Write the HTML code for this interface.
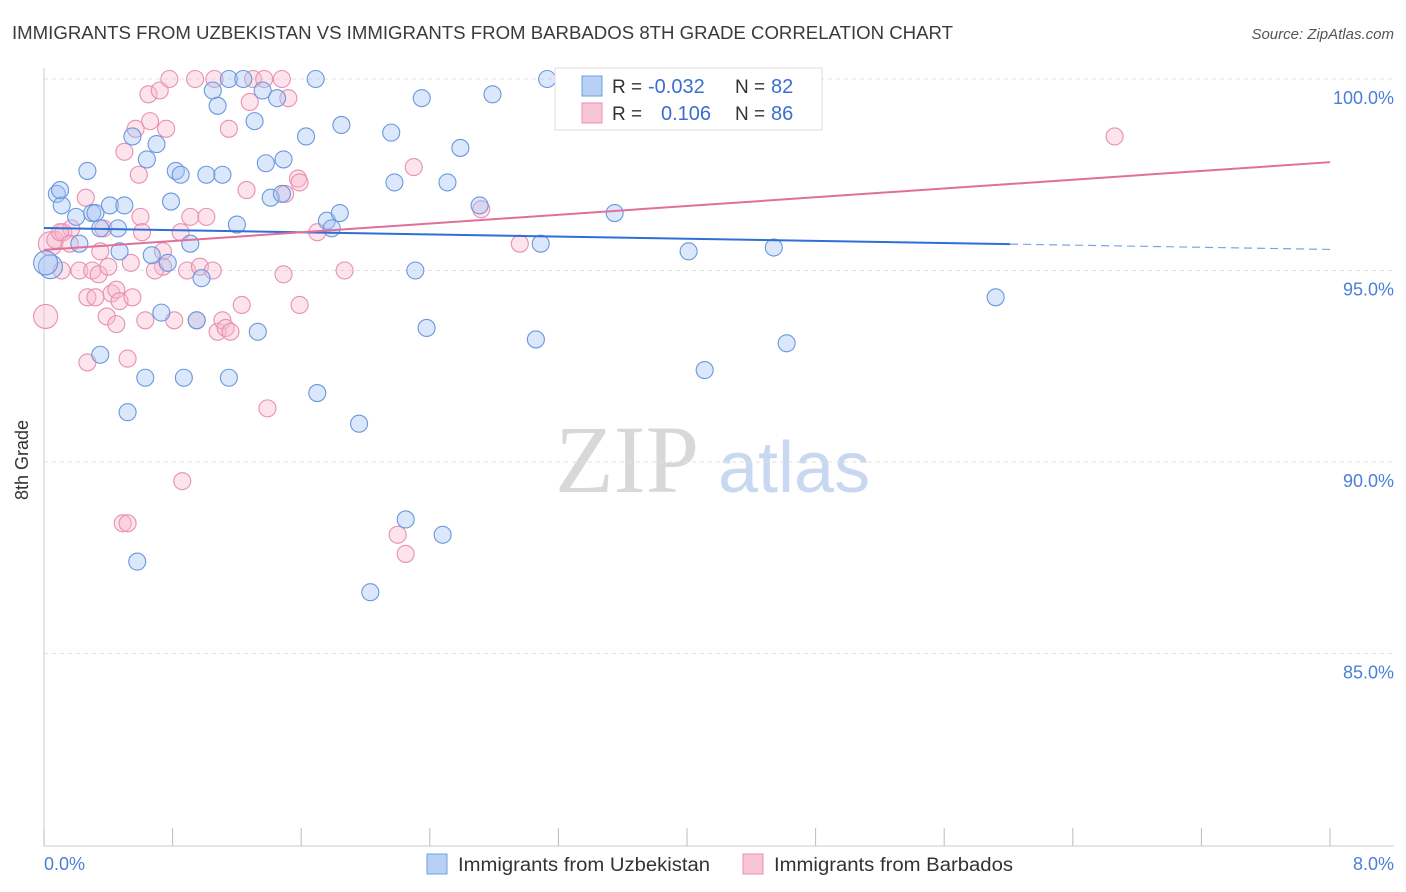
<!DOCTYPE html>
<html><head><meta charset="utf-8"><style>
body{margin:0;background:#fff;font-family:"Liberation Sans",sans-serif;}
svg{display:block}
</style></head><body>
<svg width="1406" height="892" xmlns="http://www.w3.org/2000/svg" id="chart">
<text x="12" y="39" font-size="18" fill="#3a3a3a" textLength="941" lengthAdjust="spacingAndGlyphs">IMMIGRANTS FROM UZBEKISTAN VS IMMIGRANTS FROM BARBADOS 8TH GRADE CORRELATION CHART</text>
<text x="1394" y="39" font-size="15" fill="#555" text-anchor="end" font-style="italic">Source: ZipAtlas.com</text>
<text x="555" y="492" font-size="96" fill="#d8d8d8" font-family="Liberation Serif">ZIP</text>
<text x="718" y="492" font-size="72" fill="#c8d8f0">atlas</text>
<g id="grid"></g>
<g id="axes"></g>
<g id="pts"></g>
<g id="lines"></g>
<text x="28" y="460" font-size="18" fill="#333" transform="rotate(-90 28 460)" text-anchor="middle">8th Grade</text>
<text x="44" y="870" font-size="18" fill="#4a7fd8">0.0%</text>
<text x="1394" y="870" font-size="18" fill="#4a7fd8" text-anchor="end">8.0%</text>
<g>
<rect x="555" y="68" width="267" height="62" fill="#fff" stroke="#ddd"/>
<rect x="582" y="76" width="20" height="20" fill="#b8d0f4" stroke="#6f9fe0"/>
<text x="612" y="93" font-size="19" fill="#333">R = </text><text x="648" y="93" font-size="20" fill="#3a6fd0">-0.032</text>
<text x="735" y="93" font-size="19" fill="#333">N = </text><text x="771" y="93" font-size="20" fill="#3a6fd0">82</text>
<rect x="582" y="103" width="20" height="20" fill="#f8c4d6" stroke="#e890b0"/>
<text x="612" y="120" font-size="19" fill="#333">R = </text><text x="661" y="120" font-size="20" fill="#3a6fd0">0.106</text>
<text x="735" y="120" font-size="19" fill="#333">N = </text><text x="771" y="120" font-size="20" fill="#3a6fd0">86</text>
</g>
<g>
<rect x="427" y="854" width="20" height="20" fill="#b8d0f4" stroke="#6f9fe0"/>
<text x="458" y="871" font-size="19" fill="#333" textLength="252" lengthAdjust="spacingAndGlyphs">Immigrants from Uzbekistan</text>
<rect x="743" y="854" width="20" height="20" fill="#f8c4d6" stroke="#e890b0"/>
<text x="774" y="871" font-size="19" fill="#333" textLength="239" lengthAdjust="spacingAndGlyphs">Immigrants from Barbados</text>
</g>
</svg>
<script>
const yTicks=[100,95,90,85];
const xTickCount=10;
const blueX=[0.08,0.11,0.27,0.20,0.30,0.32,0.22,0.04,0.35,0.52,0.58,0.41,0.50,0.46,0.47,0.55,0.64,0.70,0.79,0.82,0.85,0.91,0.77,0.67,0.73,0.63,0.87,0.95,0.98,1.01,1.05,1.08,1.11,1.15,1.24,1.20,1.31,1.36,1.38,1.45,1.49,1.41,1.48,1.15,1.33,1.70,1.69,1.63,1.76,1.79,1.84,1.85,1.96,2.03,2.16,2.18,2.31,2.35,2.38,2.25,2.48,2.51,2.59,2.71,2.79,3.06,3.09,3.13,3.28,3.55,4.01,4.11,4.54,4.62,5.92,0.10,0.35,0.01];
const blueY=[97.0,96.7,97.6,96.4,96.5,96.5,95.7,95.1,92.8,91.3,87.4,96.7,96.7,96.1,95.5,98.5,97.9,98.3,96.8,97.6,97.5,95.7,95.2,95.4,93.9,92.2,92.2,93.7,94.8,97.5,99.7,99.3,97.5,100,100,96.2,98.9,99.7,97.8,99.5,97.9,96.9,97.0,92.2,93.4,91.8,100,98.5,96.3,96.1,96.5,98.8,91.0,86.6,98.6,97.3,95.0,99.5,93.5,88.5,88.1,97.3,98.2,96.7,99.6,93.2,95.7,100,100,96.5,95.5,92.4,95.6,93.1,94.3,97.1,96.1,95.2];
const pinkX=[0.01,0.04,0.07,0.12,0.17,0.11,0.22,0.26,0.27,0.27,0.30,0.34,0.35,0.37,0.39,0.40,0.42,0.45,0.45,0.47,0.49,0.52,0.52,0.50,0.54,0.57,0.59,0.60,0.61,0.63,0.66,0.65,0.72,0.76,0.78,0.74,0.74,0.81,0.85,0.86,0.89,0.91,0.95,0.94,0.97,1.01,1.05,1.06,1.08,1.11,1.13,1.15,1.16,1.23,1.26,1.28,1.30,1.37,1.39,1.48,1.49,1.50,1.52,1.58,1.59,1.59,1.70,1.87,2.20,2.25,2.30,2.72,2.96,6.66,0.10,0.16,0.32,0.69,0.55];
const pinkY=[93.8,95.7,95.8,96.0,96.1,95.0,95.0,96.9,94.3,92.6,95.0,94.9,95.5,96.1,93.8,95.1,94.4,94.5,93.6,94.2,88.4,92.7,88.4,98.1,95.2,98.7,97.5,96.4,96.0,93.7,98.9,99.6,99.7,98.7,100,95.5,95.1,93.7,96.0,89.5,95.0,96.4,93.7,100,95.1,96.4,95.0,100,93.4,93.7,93.5,98.7,93.4,94.1,97.1,99.4,100,100,91.4,100,94.9,97.0,99.5,97.4,97.3,94.1,96.0,95.0,88.1,87.6,97.7,96.6,95.7,98.5,96.0,95.7,94.3,95.0,94.3];
const blueTrend=[96.11,-0.07];
const pinkTrend=[95.54,0.286];
const X0=44,X1=1330,XMAX=8,Y100=79,PXPER=38.3;
const sx=v=>X0+v/XMAX*(X1-X0), sy=v=>Y100+(100-v)*PXPER;
const NS="http://www.w3.org/2000/svg";
function mk(t,a,p){const e=document.createElementNS(NS,t);for(const k in a)e.setAttribute(k,a[k]);p.appendChild(e);return e;}
const grid=document.getElementById('grid'),axes=document.getElementById('axes'),pts=document.getElementById('pts'),lines=document.getElementById('lines');
yTicks.forEach(t=>{
 const l=mk('line',{x1:X0,x2:1394,y1:sy(t),y2:sy(t),stroke:'#e2e2e2','stroke-dasharray':'4 4'},grid);
 
 
 const tx=mk('text',{x:1394,y:sy(t)+25,'font-size':18,fill:'#4a7fd8','text-anchor':'end'},grid);
 tx.textContent=t.toFixed(1)+'%';
 
 
});
mk('line',{x1:X0,x2:X0,y1:68,y2:846,stroke:'#ccc'},axes);
mk('line',{x1:X0,x2:1394,y1:846,y2:846,stroke:'#ccc'},axes);
for(let i=0;i<=xTickCount;i++){const x=sx(i*XMAX/xTickCount);
 const t=mk('line',{x1:x,x2:x,y1:828,y2:846,stroke:'#bbb'},axes);
 
 }
function dots(xs,ys,fill,stroke,name){xs.forEach((v,i)=>{
 const r=(xs[i]<0.05)?12:8.5;
 const c=mk('circle',{cx:sx(v),cy:sy(ys[i]),r:r,fill:fill,stroke:stroke,'stroke-width':1.1},pts);
 
 });}
dots(pinkX,pinkY,'rgba(248,184,208,0.4)','#e890b0','point-barbados');
dots(blueX,blueY,'rgba(164,194,244,0.4)','#6a98dc','point-uzbekistan');
const [ba,bb]=blueTrend,[pa,pb]=pinkTrend;
const maxBlue=6.01;
let l=mk('line',{x1:sx(0),y1:sy(ba),x2:sx(maxBlue),y2:sy(ba+bb*maxBlue),stroke:'#2f6fd6','stroke-width':2},lines);


l=mk('line',{x1:sx(maxBlue),y1:sy(ba+bb*maxBlue),x2:sx(8),y2:sy(ba+bb*8),stroke:'#7aa4e4','stroke-width':1.2,'stroke-dasharray':'8 5'},lines);


l=mk('line',{x1:sx(0),y1:sy(pa),x2:sx(8),y2:sy(pa+pb*8),stroke:'#e0709a','stroke-width':2},lines);


</script>
</body></html>
